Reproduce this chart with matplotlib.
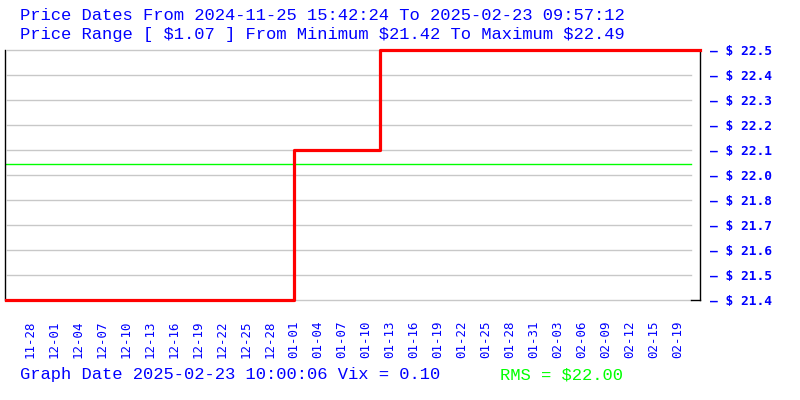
import numpy as np
import matplotlib
matplotlib.use('Agg')
import matplotlib.pyplot as plt

# price history (x in sample units, steps-post)
price_x = [0, 36, 46.75, 86.75]
price_y = [21.42, 22.06, 22.49, 22.49]
p_min = 21.42
p_max = 22.49
rms = 22.00

date_labels = ['11-28', '12-01', '12-04', '12-07', '12-10', '12-13', '12-16',
               '12-19', '12-22', '12-25', '12-28', '01-01', '01-04', '01-07',
               '01-10', '01-13', '01-16', '01-19', '01-22', '01-25', '01-28',
               '01-31', '02-03', '02-06', '02-09', '02-12', '02-15', '02-19']

title1 = 'Price Dates From 2024-11-25 15:42:24 To 2025-02-23 09:57:12'
title2 = 'Price Range [ $1.07 ] From Minimum $21.42 To Maximum $22.49'
footer1 = 'Graph Date 2025-02-23 10:00:06 Vix = 0.10'
footer2 = 'RMS = $22.00'

blue = '#0000ff'
mono = ['Liberation Mono', 'DejaVu Sans Mono']

fig = plt.figure(figsize=(8, 4), dpi=100)
ax = fig.add_axes([5/800, 100/400, 695/800, 250/400])

yticks = np.linspace(p_min, p_max, 11)
for yt in yticks:
    ax.axhline(yt, xmin=0.003, xmax=0.987, color='#c8c8c8', lw=1, zorder=1,
               clip_on=False)
ax.axhline(rms, xmin=0, xmax=0.987, color='#00ff00', lw=1, zorder=2)
ax.axhline(p_min, xmin=0.987, xmax=1, color='black', lw=1, zorder=2, clip_on=False)

ax.plot(price_x, price_y, drawstyle='steps-post', color='red', lw=2.3,
        zorder=3, clip_on=False)

ax.set_xlim(-0.125, 86.75)
ax.set_ylim(p_min, p_max)

ax.spines['top'].set_visible(False)
ax.spines['bottom'].set_visible(False)
ax.spines['left'].set_linewidth(1)
ax.spines['right'].set_linewidth(1)

ax.set_xticks(3 + 3 * np.arange(len(date_labels)))
ax.set_xticklabels(date_labels, rotation=90, color=blue,
                   family='DejaVu Sans Mono', fontsize=9)
ax.tick_params(axis='x', length=0, pad=15)

ax.yaxis.tick_right()
ax.set_yticks(yticks)
ax.set_yticklabels(['\u2014 $ %.1f' % v for v in yticks], color=blue,
                   family='DejaVu Sans Mono', fontweight='bold', fontsize=9.3)
ax.tick_params(axis='y', length=0, pad=7)

fig.text(20/800, 1 - 15/400, title1, color=blue, family=mono, fontsize=12.3, va='center')
fig.text(20/800, 1 - 35/400, title2, color=blue, family=mono, fontsize=12.3, va='center')
fig.text(20/800, 1 - 375/400, footer1, color=blue, family=mono, fontsize=12.3, va='center')
fig.text(500/800, 1 - 375/400, footer2, color='#00ff00', family=mono, fontsize=12.3, va='center')

fig.savefig('out.png', dpi=100)
